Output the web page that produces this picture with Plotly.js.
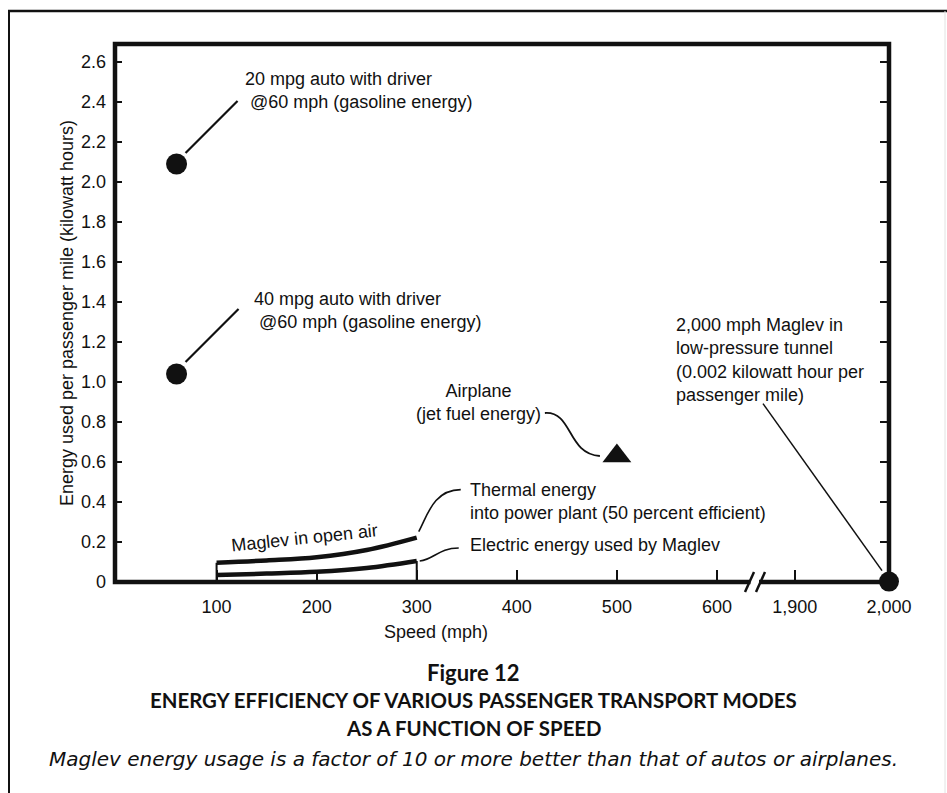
<!DOCTYPE html>
<html>
<head>
<meta charset="utf-8">
<script src="https://cdn.plot.ly/plotly-3.0.1.min.js"></script>
<style>
  html, body { margin: 0; padding: 0; background: #fff; }
  #chart { width: 947px; height: 793px; }
</style>
</head>
<body>
<div id="chart"></div>
<script>
// ---------------- data ----------------
const speedTicks = [100, 200, 300, 400, 500, 600];
const speedTickLabels = ['100', '200', '300', '400', '500', '600'];
const farSpeedTicks = [1900, 2000];
const farSpeedTickLabels = ['1,900', '2,000'];
const energyTicks = [0, 0.2, 0.4, 0.6, 0.8, 1.0, 1.2, 1.4, 1.6, 1.8, 2.0, 2.2, 2.4, 2.6];
const energyTickLabels = ['0', '0.2', '0.4', '0.6', '0.8', '1.0', '1.2', '1.4', '1.6', '1.8', '2.0', '2.2', '2.4', '2.6'];

const autoSpeed = [60, 60];            // 20 mpg, 40 mpg autos
const autoEnergy = [2.09, 1.04];
const planeSpeed = [500];
const planeEnergy = [0.63];
const tunnelSpeed = [2000];
const tunnelEnergy = [0.002];
const maglevSpeed = [100, 150, 200, 250, 300];
const thermalEnergy = [0.096, 0.108, 0.124, 0.16, 0.222];
const electricEnergy = [0.035, 0.042, 0.051, 0.07, 0.105];

// ---------------- layout helpers ----------------
const L = 115, R = 889, T = 44, B = 582;
const W = R - L, H = B - T;
const px = v => (v - L) / W;           // page pixel -> paper x
const py = v => (B - v) / H;           // page pixel -> paper y
const brk = px(757);

const FONT = 'Liberation Sans, Arial, Helvetica, sans-serif';
const INK = '#111';

const traces = [
  { x: maglevSpeed, y: thermalEnergy, mode: 'lines', line: { color: INK, width: 4.5, shape: 'spline' }, xaxis: 'x', yaxis: 'y', hoverinfo: 'skip' },
  { x: maglevSpeed, y: electricEnergy, mode: 'lines', line: { color: INK, width: 4.5, shape: 'spline' }, xaxis: 'x', yaxis: 'y', hoverinfo: 'skip' },
  { x: [maglevSpeed[0], maglevSpeed[0]], y: [0, thermalEnergy[0]], mode: 'lines', line: { color: INK, width: 2 }, xaxis: 'x', yaxis: 'y' },
  { x: [maglevSpeed[maglevSpeed.length - 1], maglevSpeed[maglevSpeed.length - 1]], y: [0, electricEnergy[electricEnergy.length - 1]], mode: 'lines', line: { color: INK, width: 2 }, xaxis: 'x', yaxis: 'y' },
  { x: autoSpeed, y: autoEnergy, mode: 'markers', marker: { symbol: 'circle', size: 21, color: INK }, xaxis: 'x', yaxis: 'y' },
  { x: planeSpeed, y: planeEnergy, mode: 'markers', marker: { symbol: 'triangle-up', size: 25, color: INK }, xaxis: 'x', yaxis: 'y' },
  { x: tunnelSpeed, y: tunnelEnergy, mode: 'markers', marker: { symbol: 'circle', size: 20, color: INK }, xaxis: 'x2', yaxis: 'y2', cliponaxis: false }
];

const tickFont = { family: FONT, size: 18, color: INK };
const annFont = { family: FONT, size: 18, color: INK };

const shapes = [
  // plot frame
  { type: 'rect', xref: 'paper', yref: 'paper', x0: 0, x1: 1, y0: 0, y1: 1, line: { color: INK, width: 4.5 }, layer: 'below' },
  // outer figure frame
  { type: 'line', xref: 'paper', yref: 'paper', x0: px(8), x1: px(947), y0: py(11), y1: py(11), line: { color: INK, width: 2.5 } },
  { type: 'line', xref: 'paper', yref: 'paper', x0: px(9), x1: px(9), y0: py(11), y1: py(793), line: { color: INK, width: 2 } },
  { type: 'line', xref: 'paper', yref: 'paper', x0: px(945), x1: px(945), y0: py(11), y1: py(793), line: { color: '#e2e2e2', width: 1 } },
  // axis break
  { type: 'rect', xref: 'paper', yref: 'paper', x0: px(750.5), x1: px(759), y0: py(578), y1: py(587), fillcolor: '#fff', line: { width: 0 } },
  { type: 'line', xref: 'paper', yref: 'paper', x0: px(745), x1: px(754), y0: py(592), y1: py(572), line: { color: INK, width: 2.5 } },
  { type: 'line', xref: 'paper', yref: 'paper', x0: px(756), x1: px(765), y0: py(592), y1: py(572), line: { color: INK, width: 2.5 } },
  // leader lines, anchored to the data points (pixel offsets, y up)
  { type: 'line', xref: 'x', yref: 'y', xsizemode: 'pixel', ysizemode: 'pixel', xanchor: autoSpeed[0], yanchor: autoEnergy[0], x0: 9, y0: 11, x1: 61, y1: 63, line: { color: INK, width: 2.2 } },
  { type: 'line', xref: 'x', yref: 'y', xsizemode: 'pixel', ysizemode: 'pixel', xanchor: autoSpeed[1], yanchor: autoEnergy[1], x0: 9, y0: 12, x1: 62, y1: 65, line: { color: INK, width: 2.2 } },
  { type: 'line', xref: 'x2', yref: 'y', xsizemode: 'pixel', ysizemode: 'pixel', xanchor: tunnelSpeed[0], yanchor: tunnelEnergy[0], x0: -126, y0: 178, x1: -7, y1: 11, line: { color: INK, width: 1.5 } },
  { type: 'path', xref: 'x', yref: 'y', xsizemode: 'pixel', ysizemode: 'pixel', xanchor: planeSpeed[0], yanchor: planeEnergy[0], path: 'M -72 43 C -44 45, -50 2, -17 0', line: { color: INK, width: 1.8 } },
  { type: 'path', xref: 'x', yref: 'y', xsizemode: 'pixel', ysizemode: 'pixel', xanchor: maglevSpeed[4], yanchor: thermalEnergy[4], path: 'M 2 6 C 10 20, 16 48, 44 48', line: { color: INK, width: 1.6 } },
  { type: 'path', xref: 'x', yref: 'y', xsizemode: 'pixel', ysizemode: 'pixel', xanchor: maglevSpeed[4], yanchor: electricEnergy[4], path: 'M 3 0 C 18 2, 22 13, 42 13', line: { color: INK, width: 1.6 } }
];

const ann = (x, y, text, extra) => Object.assign({ x, y, text, xref: 'x', yref: 'y', showarrow: false, xanchor: 'left', yanchor: 'middle', align: 'left', font: annFont }, extra || {});
const cap = (ypix, text, font) => ({ xref: 'paper', yref: 'paper', x: px(473.5), y: py(ypix), text, showarrow: false, xanchor: 'center', yanchor: 'middle', font });

const annotations = [
  ann(126.4, 2.4575, '20 mpg auto with driver<br>\u00a0@60 mph (gasoline energy)'),
  ann(135, 1.36, '40 mpg auto with driver<br>\u00a0@60 mph (gasoline energy)'),
  ann(557, 1.11, '2,000 mph Maglev in<br>low-pressure tunnel<br>(0.002 kilowatt hour per<br>passenger mile)'),
  ann(362, 0.8975, 'Airplane<br>(jet fuel energy)', { xanchor: 'center', align: 'center' }),
  ann(351, 0.405, 'Thermal energy<br>into power plant (50 percent efficient)'),
  ann(351, 0.185, 'Electric energy used by Maglev'),
  ann(187.4, 0.22, 'Maglev in open air', { xanchor: 'center', textangle: -6 }),
  cap(672, '<b>Figure 12</b>', { family: 'Lato, sans-serif', size: 22, color: INK }),
  cap(700, '<b>ENERGY EFFICIENCY OF VARIOUS PASSENGER TRANSPORT MODES</b>', { family: 'Lato, sans-serif', size: 20.4, color: INK }),
  cap(727.5, '<b>AS A FUNCTION OF SPEED</b>', { family: 'Lato, sans-serif', size: 20.4, color: INK }),
  cap(759, '<i>Maglev energy usage is a factor of 10 or more better than that of autos or airplanes.</i>', { family: 'DejaVu Sans, sans-serif', size: 20, color: INK })
];

const layout = {
  width: 947, height: 793,
  margin: { l: L, r: 947 - R, t: T, b: 793 - B, pad: 0 },
  paper_bgcolor: '#fff', plot_bgcolor: 'rgba(0,0,0,0)',
  showlegend: false,
  font: { family: FONT, size: 18, color: INK },
  xaxis: {
    domain: [0, brk], range: [-1.5, 640], anchor: 'y',
    tickmode: 'array', tickvals: speedTicks, ticktext: speedTickLabels,
    ticks: 'inside', ticklen: 12, tickwidth: 2, tickcolor: INK,
    showgrid: false, zeroline: false, showline: false,
    tickfont: tickFont, ticklabelstandoff: 12,
    title: { text: 'Speed (mph)', font: { family: FONT, size: 18, color: INK }, standoff: 9 },
    automargin: false
  },
  xaxis2: {
    domain: [brk, 1], range: [1860, 2000], anchor: 'y2',
    tickmode: 'array', tickvals: farSpeedTicks, ticktext: farSpeedTickLabels,
    ticks: 'inside', ticklen: 12, tickwidth: 2, tickcolor: INK,
    showgrid: false, zeroline: false, showline: false,
    tickfont: tickFont, ticklabelstandoff: 12, automargin: false
  },
  yaxis: {
    range: [0, 2.69], anchor: 'x',
    tickmode: 'array', tickvals: energyTicks, ticktext: energyTickLabels,
    ticks: 'inside', ticklen: 7, tickwidth: 2, tickcolor: INK,
    showgrid: false, zeroline: false, showline: false,
    tickfont: tickFont, ticklabelstandoff: 8,
    title: { text: 'Energy used per passenger mile (kilowatt hours)', font: { family: FONT, size: 18, color: INK }, standoff: 2 },
    automargin: false
  },
  yaxis2: {
    matches: 'y', range: [0, 2.69], anchor: 'x2', side: 'right',
    tickmode: 'array', tickvals: energyTicks,
    ticks: 'inside', ticklen: 9, tickwidth: 2, tickcolor: INK,
    showticklabels: false, showgrid: false, zeroline: false, showline: false
  },
  shapes, annotations
};

Plotly.newPlot('chart', traces, layout, { staticPlot: true, displayModeBar: false });
</script>
</body>
</html>
